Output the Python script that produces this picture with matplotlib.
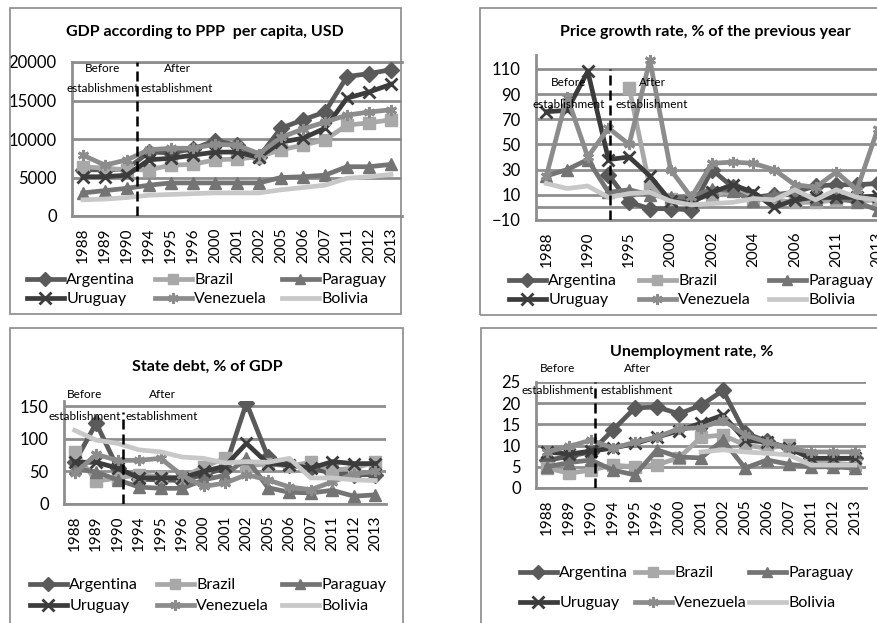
import numpy as np
import matplotlib
matplotlib.use('Agg')
import matplotlib.pyplot as plt
from matplotlib.lines import Line2D
from matplotlib.patches import Rectangle

plt.rcParams['font.family'] = ['Lato', 'DejaVu Sans']

nan = np.nan

# categories
years_a = ['1988', '1989', '1990', '1994', '1995', '1996', '2000', '2001',
           '2002', '2005', '2006', '2007', '2011', '2012', '2013']
years_p = ['1988', '1989', '1990', '1994', '1995', '1996', '2000', '2001',
           '2002', '2003', '2004', '2005', '2006', '2007', '2011', '2012', '2013']
countries = ['Argentina', 'Brazil', 'Paraguay', 'Uruguay', 'Venezuela', 'Bolivia']

# GDP according to PPP per capita, USD
arg_gdp = [6000, 6000, 6100, 8300, 8200, 8700, 9800, 9200, 7700, 11400, 12500, 13500, 18100, 18500, 19000]
bra_gdp = [6400, 6200, 6000, 6000, 6600, 6700, 7300, 7400, 7700, 8600, 9200, 9900, 11800, 12100, 12500]
par_gdp = [3000, 3300, 3600, 4000, 4300, 4300, 4300, 4300, 4300, 5000, 5100, 5300, 6400, 6400, 6700]
uru_gdp = [5100, 5100, 5300, 7300, 7500, 7900, 8300, 8300, 7600, 9600, 10100, 11400, 15300, 16100, 17100]
ven_gdp = [7900, 6600, 7300, 8600, 8800, 8800, 9300, 9200, 8100, 10200, 11300, 12200, 13100, 13500, 13800]
bol_gdp = [2100, 2200, 2400, 2700, 2800, 2900, 3000, 3000, 3000, 3400, 3700, 4000, 4900, 5100, 5400]

# Price growth rate, % of the previous year
arg_p = [nan, nan, nan, 26, 4, -1, -1, -2, 30, 16, 8, 10, 12, 17, 18, 18, 19]
bra_p = [nan, nan, nan, nan, 95, 16, 7, 7, 9, 14, 7, 6, 4, 4, 6, 5, 6]
par_p = [25, 30, 38, 12, 14, 10, 8, 8, 15, 13, 5, 10, 10, 7, 8, 4, -2]
uru_p = [76, 77, 108, 38, 40, 25, 5, 4, 12, 18, 12, 0, 6, 8, 8, 8, 9]
ven_p = [25, 88, 40, 63, 50, 117, 30, 8, 35, 36, 35, 30, 18, 16, 28, 14, 62]
bol_p = [19, 15, 17, 8, 11, 12, 5, 2, 3, 4, 7, 6, 14, 6, 14, 8, 6]

# State debt, % of GDP
arg_d = [64, 124, 55, 38, 37, 36, 45, 55, 155, 72, 60, 55, 47, 45, 45]
bra_d = [80, 35, 40, 45, 42, 40, 57, 70, 58, 62, 58, 64, 52, 55, 64]
par_d = [55, 49, 37, 26, 24, 24, 37, 44, 70, 25, 18, 17, 21, 12, 14]
uru_d = [64, 64, 55, 40, 40, 40, 50, 58, 93, 62, 60, 55, 65, 62, 62]
ven_d = [47, 76, 67, 67, 70, 44, 27, 32, 45, 37, 26, 22, 34, 46, 50]
bol_d = [113, 98, 93, 83, 80, 72, 70, 63, 65, 64, 70, 40, 40, 37, 36]

# Unemployment rate, %
arg_u = [6.5, 7.5, 8.5, 13.7, 18.9, 19.1, 17.5, 19.5, 23.0, 13.0, 11.0, 9.4, 7.0, 7.0, 7.0]
bra_u = [4.7, 3.5, 4.2, 5.4, 5.0, 5.5, 7.1, 12.0, 12.5, 10.1, 9.4, 10.1, 6.6, 5.9, 5.4]
par_u = [5.0, 6.0, 6.6, 4.2, 3.1, 9.0, 7.3, 7.1, 11.3, 4.7, 6.6, 5.6, 5.0, 5.0, 4.7]
uru_u = [8.5, 8.0, 8.7, 9.4, 10.5, 12.0, 13.5, 15.3, 17.2, 11.3, 10.8, 9.4, 7.0, 7.0, 7.0]
ven_u = [8.5, 9.8, 11.3, 9.4, 10.8, 12.0, 14.0, 14.2, 16.0, 12.5, 10.8, 9.4, 8.5, 8.5, 8.5]
bol_u = [nan, nan, nan, nan, nan, nan, nan, 8.5, 9.0, 8.5, 8.2, 7.8, 5.4, 5.4, 5.4]

# series styles: color, marker
styles = {
    'Argentina': ('#5a5a5a', 'D'),
    'Brazil': ('#a8a8a8', 's'),
    'Paraguay': ('#747474', '^'),
    'Uruguay': ('#3c3c3c', 'x'),
    'Venezuela': ('#8c8c8c', (6, 2, 0)),
    'Bolivia': ('#c8c8c8', None),
}
grid_c = '#8e8e8e'

W, H = 877, 623
fig = plt.figure(figsize=(W / 100, H / 100), dpi=100)


def px_axes(l, t, r, b):
    return fig.add_axes([l / W, 1 - b / H, (r - l) / W, (b - t) / H])


def border(l, t, r, b):
    fig.patches.append(Rectangle((l / W, 1 - b / H), (r - l) / W, (b - t) / H,
                                 transform=fig.transFigure, fill=False,
                                 edgecolor='#8a8a8a', lw=1.2))


def ftext(x, y, s, **kw):
    fig.text(x / W, 1 - y / H, s, ha='center', va='center', **kw)


def marker_kw(c, m, size=8):
    return dict(marker=m, ms=size if m != 'x' else size + 1,
                mew=2 if m in ('x', (6, 2, 0)) else 1, mec=c, mfc=c)


def draw_panel(ax, cats, series, ylim, yticks, xtick_step=1):
    x = np.arange(len(cats))
    for name, vals in zip(countries, series):
        c, m = styles[name]
        ax.plot(x, vals, color=c, lw=3.4, zorder=3, **marker_kw(c, m))
    ax.set_xlim(-0.5, len(cats) - 0.5)
    ax.set_ylim(*ylim)
    ax.set_yticks(yticks)
    ax.set_xticks(x[::xtick_step])
    ax.set_xticklabels(cats[::xtick_step], rotation=90, fontsize=11)
    ax.tick_params(axis='y', length=0, pad=11, labelsize=12)
    ax.tick_params(axis='x', length=0, pad=8)
    ax.grid(axis='y', color=grid_c, lw=2, zorder=0)
    ax.set_axisbelow(True)
    for s in ['top', 'right']:
        ax.spines[s].set_visible(False)
    for s in ['left', 'bottom']:
        ax.spines[s].set_color(grid_c)
        ax.spines[s].set_linewidth(2)


def dashed(ax, xpos, y0, y1):
    ax.plot([xpos, xpos], [y0, y1], color='black', lw=1.8, ls=(0, (4, 2)), zorder=4)


def period_labels(xb, xa, y1, y2):
    ftext(xb, y1, 'Before', fontsize=8.5)
    ftext(xb, y2, 'establishment', fontsize=8.5)
    ftext(xa, y1, 'After', fontsize=8.5)
    ftext(xa, y2, 'establishment', fontsize=8.5)


def legend(cols_x, y_top, row_gap):
    pairs = [('Argentina', 'Uruguay'), ('Brazil', 'Venezuela'), ('Paraguay', 'Bolivia')]
    for cx, pair in zip(cols_x, pairs):
        hs = []
        for name in pair:
            c, m = styles[name]
            hs.append(Line2D([], [], color=c, lw=3.4, **marker_kw(c, m, 7.5)))
        fig.legend(hs, pair, loc='upper left',
                   bbox_to_anchor=(cx / W, 1 - y_top / H), frameon=False,
                   fontsize=11.5, handlelength=2.3, handletextpad=0.15,
                   borderpad=0, borderaxespad=0,
                   labelspacing=(row_gap - 16) / 16)


# panel 1: GDP
border(10, 8, 401, 314)
ax1 = px_axes(72, 62, 402, 216)
draw_panel(ax1, years_a, [arg_gdp, bra_gdp, par_gdp, uru_gdp, ven_gdp, bol_gdp],
           (0, 20000), np.arange(0, 20001, 5000))
ax1.spines['top'].set_visible(True)
ax1.spines['top'].set_color(grid_c)
ax1.spines['top'].set_linewidth(2)
dashed(ax1, 2.45, 0, 20000)
ftext(205, 32, 'GDP according to PPP  per capita, USD', fontsize=11.5, fontweight='bold')
period_labels(103, 177, 68, 89)
legend([27, 155, 282], 273, 21)

# panel 2: price growth
border(480, 8, 900, 315)
ax2 = px_axes(536, 55, 888, 220)
draw_panel(ax2, years_p, [arg_p, bra_p, par_p, uru_p, ven_p, bol_p],
           (-10, 121), np.arange(-10, 111, 20), xtick_step=2)
ax2.axhline(0, color=grid_c, lw=2, zorder=1)
dashed(ax2, 3.05, -10, 110)
ftext(705, 32, 'Price growth rate, % of the previous year', fontsize=11.5, fontweight='bold')
period_labels(569, 652, 82, 104)
legend([509, 639, 769], 274, 21)

# panel 3: state debt
border(10, 328, 403, 640)
ax3 = px_axes(64, 401, 386, 504)
draw_panel(ax3, years_a, [arg_d, bra_d, par_d, uru_d, ven_d, bol_d],
           (0, 158), np.arange(0, 151, 50))
dashed(ax3, 2.25, 0, 141)
ftext(207, 367, 'State debt, % of GDP', fontsize=11.5, fontweight='bold')
period_labels(85, 162, 395, 417)
legend([30, 157, 282], 578, 23)

# panel 4: unemployment
border(481, 328, 900, 640)
ax4 = px_axes(536, 382, 866, 488)
draw_panel(ax4, years_a, [arg_u, bra_u, par_u, uru_u, ven_u, bol_u],
           (0, 25), np.arange(0, 26, 5))
dashed(ax4, 2.2, 0, 25)
ftext(692, 352, 'Unemployment rate, %', fontsize=11.5, fontweight='bold')
period_labels(558, 637, 369, 390)
legend([520, 635, 749], 566, 32)

fig.savefig('out.png', dpi=100)
